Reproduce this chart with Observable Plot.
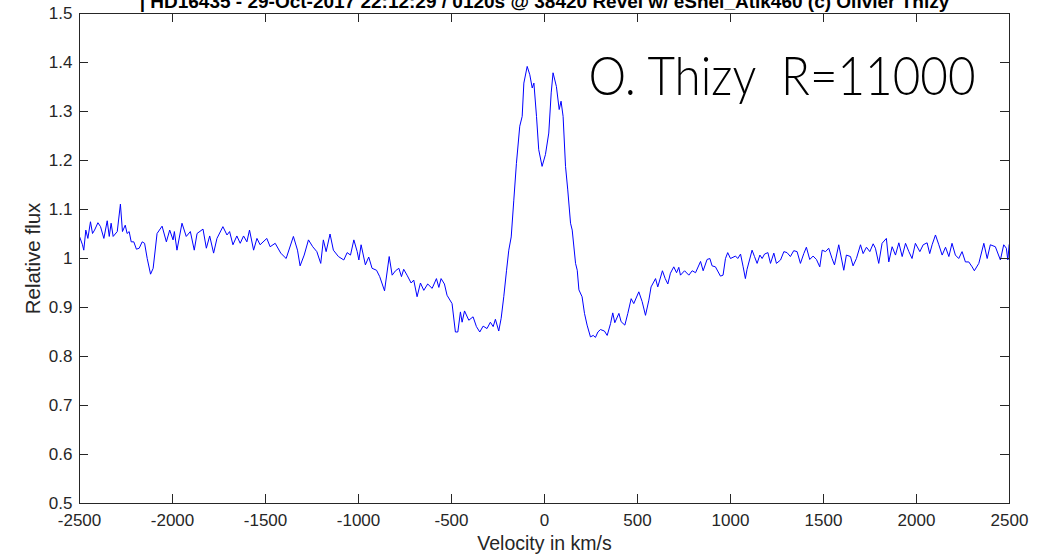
<!DOCTYPE html>
<html><head><meta charset="utf-8">
<script src="https://cdn.jsdelivr.net/npm/d3@7"></script>
<script src="https://cdn.jsdelivr.net/npm/@observablehq/plot@0.6"></script>
<style>body{margin:0;background:#fff;} #chart{position:relative;width:1048px;height:559px;overflow:hidden}</style>
</head><body><div id="chart"></div>
<script>
const velocity = [
-2500,-2484,-2477,-2466,-2455,-2441,-2430,-2419,-2401,-2387,-2369,-2351,-2340,-2330,-2319,-2297,-2280,-2269,-2254,-2244,
-2233,-2222,-2208,-2194,-2179,-2163,-2150,-2136,-2118,-2104,-2083,-2056,-2033,-2015,-1997,-1990,-1976,-1949,-1926,-1904,
-1883,-1868,-1836,-1818,-1800,-1779,-1761,-1729,-1707,-1693,-1675,-1654,-1636,-1618,-1600,-1586,-1564,-1546,-1529,-1493,
-1475,-1448,-1418,-1389,-1350,-1328,-1314,-1292,-1269,-1246,-1224,-1203,-1189,-1174,-1153,-1135,-1108,
-1079,-1061,-1043,-1025,-1007,-998,-986,-963,-945,-927,-903,-886,-860,-835,-819,-801,-783,-769,-757,-739,
-717,-703,-685,-667,-649,-628,-604,-581,-568,-556,-538,-524,-497,-479,-466,-452,-443,-430,-407,-384,-366,
-348,-330,-309,-291,-276,-264,-246,-233,-219,-204,-192,-179,-165,-151,-133,-120,-111,-93,-79,-66,-57,-43,-31,-13,
5,23,36,46,64,79,89,100,113,125,140,
149,167,176,185,202,215,229,247,262,274,287,301,322,337,355,367,378,400,412,432,448,466,480,507,525,543,561,573,597,609,
634,649,663,677,695,710,722,731,753,776,794,812,839,853,874,889,901,919,946,960,973,985,1000,1027,1039,1054,1068,1080,1089,
1116,1129,1143,1158,1170,1183,1201,1215,1233,1247,
1269,1287,1304,1322,1340,1358,1376,1394,1408,1426,1444,1462,1480,1493,1511,1528,1546,1559,1582,1609,1623,1645,1659,1677,
1699,1713,1731,1749,1767,1779,1797,1815,1838,1851,1869,1887,1905,1923,1941,1959,1976,1994,2018,2036,2057,2071,2084,2102,
2120,2138,2156,2174,2191,2209,2227,2245,2263,2281,2299,2311,2335,2362,2380,2397,2424,2451,2469,2483,2491,2498
];
const flux = [
1.045,1.028,1.017,1.058,1.041,1.075,1.051,1.058,1.073,1.065,1.041,1.077,1.045,1.072,1.045,1.055,1.111,1.055,1.068,1.051,
1.055,1.034,1.034,1.019,1.021,1.034,1.031,1.000,0.968,0.980,1.051,1.066,1.034,1.058,1.038,1.055,1.017,1.072,1.045,1.055,
1.017,1.051,1.060,1.021,1.046,1.011,1.041,1.065,1.048,1.055,1.028,1.046,1.031,1.046,1.034,1.058,1.017,1.041,1.028,1.041,
1.024,1.031,1.011,1.000,1.045,1.017,0.985,1.007,1.038,1.024,1.014,0.990,1.038,1.014,1.050,1.017,1.004,
0.997,1.012,1.007,1.038,1.014,0.997,1.028,0.987,1.003,0.980,0.976,0.963,0.934,1.004,0.966,0.975,0.980,0.963,0.978,0.966,
0.950,0.956,0.922,0.950,0.935,0.948,0.939,0.959,0.941,0.959,0.948,0.925,0.908,0.850,0.850,0.891,0.870,0.893,0.874,0.881,0.861,
0.850,0.862,0.857,0.870,0.861,0.876,0.852,0.878,0.922,0.976,1.017,1.044,1.119,1.194,1.270,1.290,1.358,1.392,1.375,1.348,1.358,1.290,1.222,1.188,
1.212,1.256,1.338,1.379,1.351,1.304,1.321,1.290,1.188,1.140,1.072,
1.058,0.990,0.976,0.936,0.922,0.888,0.864,0.840,0.843,0.839,0.850,0.855,0.852,0.843,0.867,0.889,0.869,0.888,0.871,0.864,0.888,0.918,0.908,0.932,0.912,0.884,0.915,0.942,0.959,0.942,
0.975,0.959,0.948,0.970,0.983,0.971,0.982,0.966,0.975,0.966,0.975,0.971,0.994,0.975,0.998,1.000,0.985,0.983,0.964,0.966,1.000,1.012,1.000,1.005,1.000,1.009,0.983,0.959,0.978,
1.017,1.004,0.990,1.007,1.000,1.009,1.012,0.990,1.011,0.990,
0.997,1.014,1.012,1.004,1.016,1.014,0.990,1.010,1.023,0.998,1.005,0.998,0.983,1.017,1.014,1.021,1.000,0.987,1.028,0.976,1.007,1.004,0.985,1.000,
1.028,1.010,1.023,1.014,1.030,1.021,0.990,1.031,1.041,0.993,1.024,1.007,1.032,1.004,1.031,1.014,1.000,1.031,1.014,1.028,1.032,1.010,1.028,1.048,
1.028,1.007,1.023,1.004,1.031,1.007,1.000,1.014,0.993,0.993,0.983,0.975,0.990,1.031,1.000,1.028,1.024,0.997,1.028,1.021,0.997,1.028
];
const xTicks = [-2500,-2000,-1500,-1000,-500,0,500,1000,1500,2000,2500];
const yTicks = [0.5,0.6,0.7,0.8,0.9,1,1.1,1.2,1.3,1.4,1.5];
const titleText = "| HD16435 - 29-Oct-2017 22:12:29 / 0120s @ 38420 Revel w/ eShel_Atik460 (c) Olivier Thizy";
const noteText = "O. Thizy  R=11000";
const xLabel = "Velocity in km/s";
const yLabel = "Relative flux";

const data = velocity.map((v, i) => ({v, f: flux[i]}));
const W = 1048, H = 559, mL = 79, mR = 39, mT = 13, mB = 56;
const fw = W - mL - mR, fh = H - mT - mB, tick = 9;
const ink = "#262626";
const chart = Plot.plot({
  width: W, height: H,
  marginLeft: mL, marginRight: mR, marginTop: mT, marginBottom: mB,
  style: {fontFamily: "'Liberation Sans', Arial, sans-serif", background: "#fff", color: ink},
  x: {domain: [-2500, 2500]},
  y: {domain: [0.5, 1.5]},
  marks: [
    Plot.line(data, {x: "v", y: "f", stroke: "#0000ff", strokeWidth: 1}),
    Plot.tickX(xTicks, {x: d => d, insetTop: fh - tick, stroke: ink}),
    Plot.tickX(xTicks, {x: d => d, insetBottom: fh - tick, stroke: ink}),
    Plot.tickY(yTicks, {y: d => d, insetRight: fw - tick, stroke: ink}),
    Plot.tickY(yTicks, {y: d => d, insetLeft: fw - tick, stroke: ink}),
    Plot.frame({stroke: ink}),
    Plot.axisX(xTicks, {tickSize: 0, tickPadding: 10, fontSize: 17, label: null, tickFormat: d => String(d)}),
    Plot.axisY(yTicks, {tickSize: 0, tickPadding: 7, fontSize: 17, label: null, tickFormat: d => String(d)}),
    Plot.text([xLabel], {frameAnchor: "bottom", dy: 46, fontSize: 19.5, fill: ink}),
    Plot.text([yLabel], {frameAnchor: "left", dx: -46, rotate: -90, textAnchor: "middle", fontSize: 20.5, fill: ink}),
    Plot.text([titleText], {frameAnchor: "top", dy: -6, lineAnchor: "bottom", fontWeight: "bold", fontSize: 19, fill: "#000"}),
    Plot.text([noteText], {frameAnchor: "top-right", dx: -34, dy: 81, lineAnchor: "bottom", textAnchor: "end", fontSize: 53, fontWeight: 300, fontFamily: "Lato", fill: "#000", className: "note"})
  ]
});
d3.select(chart).selectAll(".note text").attr("textLength", 387).attr("lengthAdjust", "spacingAndGlyphs");
document.getElementById("chart").append(chart);
</script></body></html>
